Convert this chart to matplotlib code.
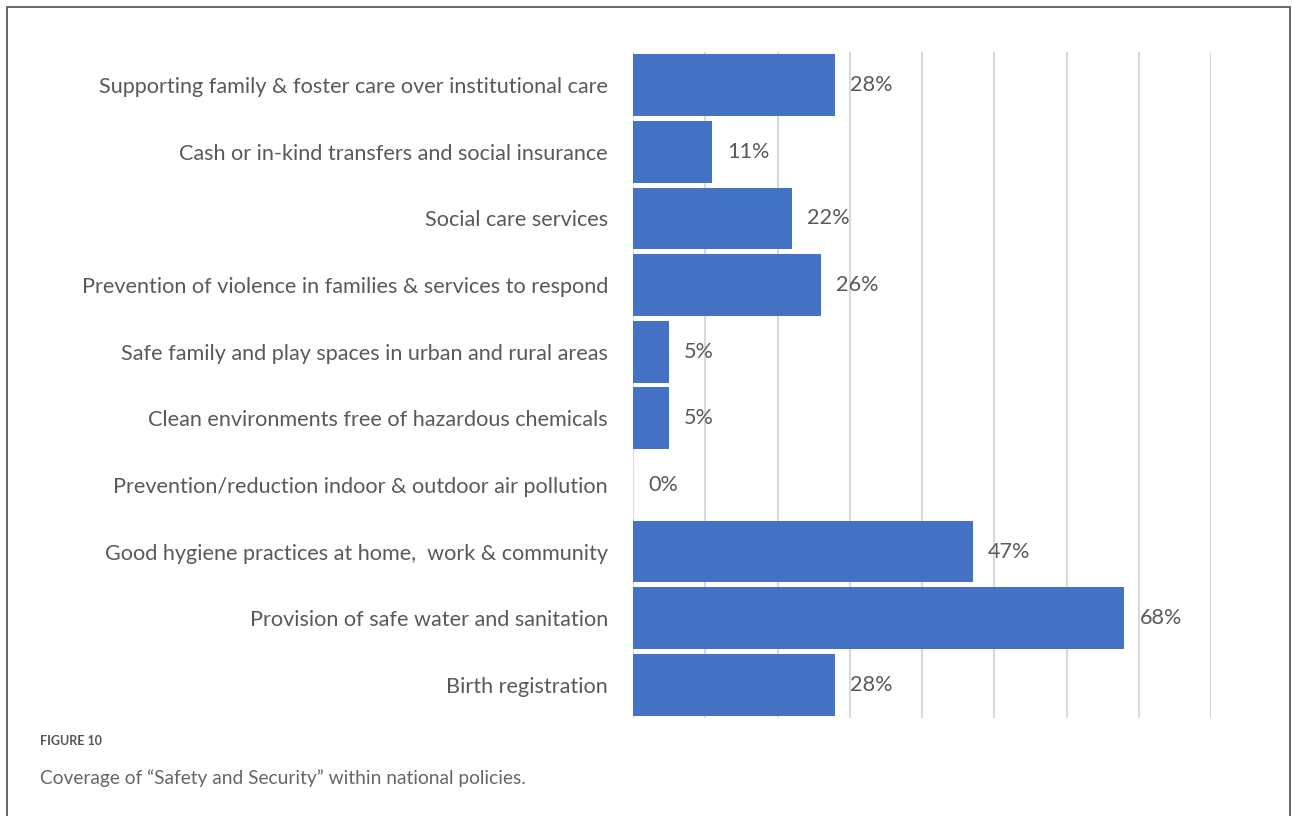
import matplotlib
matplotlib.use("Agg")
import matplotlib.pyplot as plt
from matplotlib.patches import Rectangle

categories = [
    "Supporting family & foster care over institutional care",
    "Cash or in-kind transfers and social insurance",
    "Social care services",
    "Prevention of violence in families & services to respond",
    "Safe family and play spaces in urban and rural areas",
    "Clean environments free of hazardous chemicals",
    "Prevention/reduction indoor & outdoor air pollution",
    "Good hygiene practices at home,  work & community",
    "Provision of safe water and sanitation",
    "Birth registration",
]
values = [28, 11, 22, 26, 5, 5, 0, 47, 68, 28]
grid_ticks = [0, 10, 20, 30, 40, 50, 60, 70, 80]

W, H = 1292, 816
fig = plt.figure(figsize=(W / 100, H / 100), dpi=100)
fig.patch.set_facecolor("white")

# outer frame (open at the bottom, as in the cropped page)
fig.patches.append(Rectangle((7 / W, -0.05), (1290 - 7) / W, 1.05 - 7 / H,
                             transform=fig.transFigure, fill=False,
                             edgecolor="#5a5a5a", linewidth=1.3))

ax = fig.add_axes([633 / W, 1 - 718 / H, (1211 - 633) / W, (718 - 52) / H])
y = list(range(len(categories)))
ax.barh(y, values, height=0.93, color="#4472c4", zorder=2)
ax.set_ylim(len(categories) - 0.5, -0.5)
ax.set_xlim(0, 80)
ax.set_xticks(grid_ticks)
ax.set_xticklabels([])
ax.tick_params(axis="x", length=0)
ax.grid(axis="x", color="#d9d9d9", linewidth=1.5, zorder=0)
ax.set_yticks(y)
ax.set_yticklabels(categories, fontsize=15.6, color="#595959", family="Lato")
ax.tick_params(axis="y", length=0, pad=18)
for s in ax.spines.values():
    s.set_visible(False)

for yi, v in zip(y, values):
    ax.text(v + 2.1, yi, f"{v}%", va="center", ha="left",
            fontsize=15.6, color="#595959", family="Lato")

fig.text(40 / W, 1 - 741 / H, "FIGURE 10", fontsize=9, color="#555555",
         family="Lato", weight="bold", va="center")
fig.text(40 / W, 1 - 778 / H, "Coverage of \u201cSafety and Security\u201d within national policies.",
         fontsize=13.8, color="#666666", family="Lato", va="center")

fig.savefig("out.png", dpi=100, facecolor="white")
